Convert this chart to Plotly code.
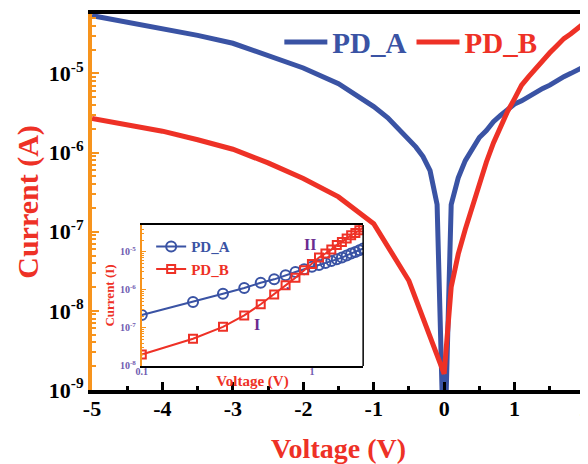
import plotly.graph_objects as go

# ---------------- data ----------------
# Main panel, negative bias (A)
v_neg_A = [-5, -4.5, -4, -3.5, -3, -2.5, -2, -1.5, -1, -0.8, -0.6, -0.4, -0.3, -0.2, -0.1, 0]
i_neg_A = [5.37e-5, 4.47e-5, 3.72e-5, 3.02e-5, 2.40e-5, 1.66e-5, 1.17e-5, 7.4e-6, 3.8e-6,
           2.75e-6, 1.82e-6, 1.17e-6, 8.9e-7, 5.9e-7, 2.2e-7, 1e-10]
v_neg_B = [-5, -4.5, -4, -3.5, -3, -2.5, -2, -1.5, -1, -0.5, 0]
i_neg_B = [2.7e-6, 2.24e-6, 1.86e-6, 1.45e-6, 1.10e-6, 7.4e-7, 4.7e-7, 2.75e-7, 1.26e-7, 2.4e-8, 1.6e-9]

# Positive bias (used in main panel and inset)
v_pos = [0.1, 0.2, 0.3, 0.4, 0.5, 0.6, 0.7, 0.8, 0.9, 1.0,
         1.1, 1.2, 1.3, 1.4, 1.5, 1.6, 1.7, 1.8, 1.9, 2.0]
i_pos_A = [2.2e-7, 4.8e-7, 7.9e-7, 1.12e-6, 1.55e-6, 1.9e-6, 2.45e-6, 2.95e-6, 3.5e-6, 4.1e-6,
           4.5e-6, 5.1e-6, 5.75e-6, 6.45e-6, 7.1e-6, 8.1e-6, 9.1e-6, 1.0e-5, 1.1e-5, 1.23e-5]
i_pos_B = [2.0e-8, 5.2e-8, 1.07e-7, 2.14e-7, 4.2e-7, 7.6e-7, 1.32e-6, 2.1e-6, 3.3e-6, 4.8e-6,
           7.1e-6, 9.1e-6, 1.15e-5, 1.51e-5, 1.82e-5, 2.24e-5, 2.75e-5, 3.16e-5, 3.7e-5, 4.4e-5]

x_tickvals = [-5, -4, -3, -2, -1, 0, 1, 2]
x_ticktext = ["-5", "-4", "-3", "-2", "-1", "0", "1", "2"]
y_tickvals = [1e-9, 1e-8, 1e-7, 1e-6, 1e-5]
y_ticktext = ["10<sup>-9</sup>", "10<sup>-8</sup>", "10<sup>-7</sup>", "10<sup>-6</sup>", "10<sup>-5</sup>"]
inset_x_tickvals = [0.1, 1]
inset_x_ticktext = ["0.1", "1"]
inset_y_tickvals = [1e-8, 1e-7, 1e-6, 1e-5]
inset_y_ticktext = ["10<sup>-8</sup>", "10<sup>-7</sup>", "10<sup>-6</sup>", "10<sup>-5</sup>"]

# ---------------- style ----------------
BLUE = "#3a53a4"
RED = "#ee3126"
ORANGE = "#f7941d"
PURPLE = "#6f5bb0"
DPURPLE = "#6a2c8f"
SERIF = "Liberation Serif"

main_minor = [m * 10.0 ** e for e in range(-9, -4) for m in range(2, 10)]
inset_minor = [m * 10.0 ** e for e in range(-8, -4) for m in range(2, 10)]

fig = go.Figure()

fig.add_trace(go.Scatter(
    x=v_neg_A + v_pos, y=i_neg_A + i_pos_A, mode="lines",
    line=dict(color=BLUE, width=5),
    name="<span style='color:%s'>PD_A</span>" % BLUE, legend="legend",
    xaxis="x", yaxis="y"))
fig.add_trace(go.Scatter(
    x=v_neg_B + v_pos, y=i_neg_B + i_pos_B, mode="lines",
    line=dict(color=RED, width=5),
    name="<span style='color:%s'>PD_B</span>" % RED, legend="legend",
    xaxis="x", yaxis="y"))

# inset
fig.add_trace(go.Scatter(
    x=v_pos, y=i_pos_A, mode="lines+markers",
    line=dict(color=BLUE, width=2),
    marker=dict(symbol="circle-open", size=10, color=BLUE, line=dict(width=2, color=BLUE)),
    name="<span style='color:%s'>PD_A</span>" % BLUE, legend="legend2",
    xaxis="x2", yaxis="y2"))
fig.add_trace(go.Scatter(
    x=v_pos, y=i_pos_B, mode="lines+markers",
    line=dict(color=RED, width=2),
    marker=dict(symbol="square-open", size=8, color=RED, line=dict(width=2, color=RED)),
    name="<span style='color:%s'>PD_B</span>" % RED, legend="legend2",
    xaxis="x2", yaxis="y2"))

# the page body adds an 8px offset, so the figure is 8px smaller
fig.update_layout(
    width=580, height=456,
    margin=dict(l=84, r=3, t=6, b=74, autoexpand=False),
    paper_bgcolor="white", plot_bgcolor="white",
    font=dict(family=SERIF, color="black"),
    xaxis=dict(
        domain=[0, 1], range=[-5, 2], showgrid=False, zeroline=False, automargin=False,
        showline=True, linecolor="black", linewidth=4, mirror=True,
        ticks="inside", ticklen=8, tickwidth=3, tickcolor="black",
        tickmode="array", tickvals=x_tickvals, ticktext=x_ticktext,
        minor=dict(ticks="inside", ticklen=4, tickwidth=3, tickcolor="black", dtick=0.5, showgrid=False),
        tickfont=dict(family=SERIF, size=22, color="black", weight="bold"),
        ticklabelstandoff=-4, ticklabeloverflow="allow",
        title=dict(text="Voltage (V)", font=dict(family=SERIF, size=28, color=RED, weight="bold"), standoff=19),
    ),
    yaxis=dict(
        domain=[0, 1], type="log", range=[-9, -4.25], showgrid=False, zeroline=False, automargin=False,
        showline=True, linecolor=ORANGE, linewidth=4,
        ticks="inside", ticklen=7, tickwidth=2, tickcolor=ORANGE,
        tickmode="array", tickvals=y_tickvals, ticktext=y_ticktext,
        minor=dict(ticks="inside", ticklen=4, tickwidth=2, tickcolor=ORANGE, showgrid=False,
                   tickmode="array", tickvals=main_minor),
        tickfont=dict(family=SERIF, size=22, color="black", weight="bold"),
        ticklabelstandoff=0, ticklabeloverflow="allow",
        title=dict(text="Current (A)", font=dict(family=SERIF, size=30, color=RED, weight="bold"), standoff=2),
    ),
    xaxis2=dict(
        domain=[0.101, 0.550], anchor="y2", type="log", range=[-1, 0.301],
        showgrid=False, zeroline=False, automargin=False,
        showline=True, linecolor="black", linewidth=1.5, mirror=True,
        ticks="", tickmode="array", tickvals=inset_x_tickvals, ticktext=inset_x_ticktext,
        tickfont=dict(family=SERIF, size=10, color=PURPLE, weight="bold"),
        ticklabelstandoff=-5, ticklabeloverflow="allow",
        title=dict(text="Voltage (V)", font=dict(family=SERIF, size=15, color=RED, weight="bold"), standoff=0),
    ),
    yaxis2=dict(
        domain=[0.064, 0.439], anchor="x2", type="log", range=[-8, -4.29],
        showgrid=False, zeroline=False, automargin=False,
        showline=True, linecolor=ORANGE, linewidth=2,
        ticks="inside", ticklen=4, tickwidth=1, tickcolor=ORANGE,
        tickmode="array", tickvals=inset_y_tickvals, ticktext=inset_y_ticktext,
        minor=dict(ticks="inside", ticklen=2, tickwidth=1, tickcolor=ORANGE, showgrid=False,
                   tickmode="array", tickvals=inset_minor),
        tickfont=dict(family=SERIF, size=10, color=PURPLE, weight="bold"),
        ticklabelstandoff=2, ticklabeloverflow="allow",
        title=dict(text="Current (I)", font=dict(family=SERIF, size=13, color=RED, weight="bold"), standoff=2),
    ),
    legend=dict(
        orientation="h", x=0.380, y=0.925, xanchor="left", yanchor="middle",
        bgcolor="rgba(0,0,0,0)", font=dict(family=SERIF, size=29, weight="bold"),
        itemwidth=43, entrywidth=0, tracegroupgap=0,
    ),
    legend2=dict(
        orientation="v", x=0.12, y=0.352, xanchor="left", yanchor="middle",
        bgcolor="rgba(0,0,0,0)", font=dict(family=SERIF, size=15, weight="bold"),
        itemwidth=30, tracegroupgap=0,
    ),
    showlegend=True,
    shapes=[
        dict(type="line", xref="x domain", yref="y domain", x0=1, x1=1, y0=0, y1=1,
             line=dict(color="black", width=4)),
        dict(type="line", xref="x2 domain", yref="y2 domain", x0=1, x1=1, y0=0, y1=1,
             line=dict(color="black", width=1.5)),
    ],
    annotations=[
        dict(text="II", x=0.442, y=0.386, xref="paper", yref="paper", showarrow=False,
             font=dict(family=SERIF, size=16, color=DPURPLE, weight="bold")),
        dict(text="I", x=0.335, y=0.146, xref="paper", yref="paper", showarrow=False,
             font=dict(family=SERIF, size=16, color=DPURPLE, weight="bold")),
        dict(text=".", x=0.396, y=0.255, xref="paper", yref="paper", showarrow=False,
             font=dict(family=SERIF, size=12, color=DPURPLE, weight="bold")),
    ],
)

fig.write_html("out.html")
